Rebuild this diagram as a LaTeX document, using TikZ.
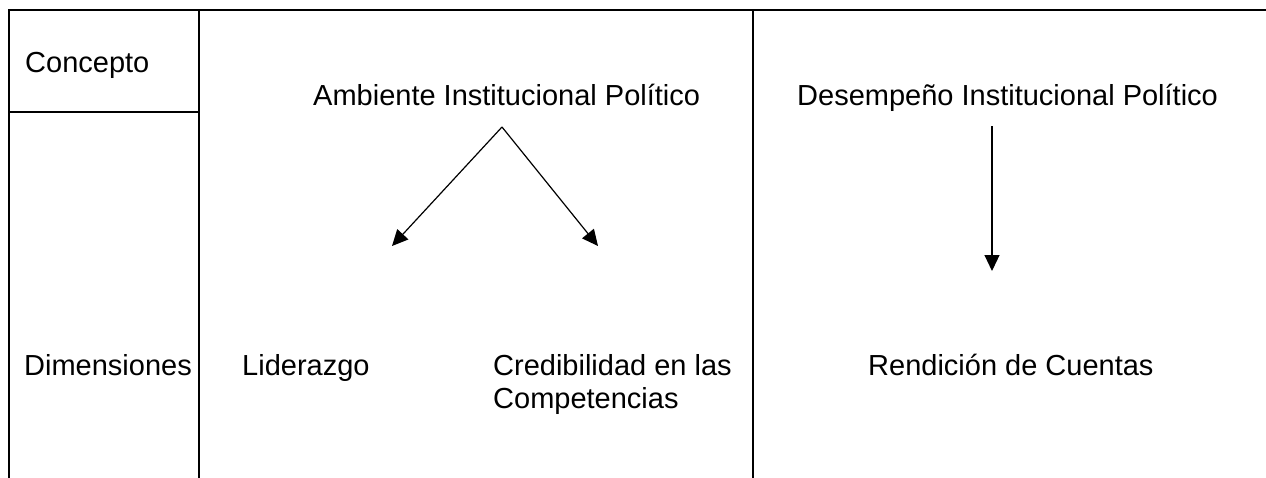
\documentclass[tikz,border=0pt]{standalone}
\usepackage{fontspec}
\setmainfont{Liberation Sans}
\usetikzlibrary{arrows.meta}
\begin{document}
\begin{tikzpicture}[x=1pt,y=-1pt,
  frame/.style={line width=2pt,line cap=rect},
  arr/.style={line width=1.2pt,-{Triangle[length=16pt,width=15pt]}},
  lbl/.style={inner sep=0pt,anchor=base west,font=\fontsize{29}{33}\selectfont,align=left}]
\useasboundingbox (0,0) rectangle (1266,477);
% frame
\draw[frame] (9,477) -- (9,10) -- (1265,10);
\draw[frame] (9,112) -- (199,112);
\draw[frame] (199,10) -- (199,477);
\draw[frame] (752.5,10) -- (752.5,477);
% texts
\node[lbl] (con) at (25,72) {Concepto};
\node[lbl] (amb) at (313,105) {Ambiente Institucional Político};
\node[lbl] (des) at (797,105) {Desempeño Institucional Político};
\node[lbl] (dim) at (24,375) {Dimensiones};
\node[lbl] (lid) at (242,375) {Liderazgo};
\node[lbl] (cre) at (493,408) {Credibilidad en las\\Competencias};
\node[lbl] (ren) at (868,375) {Rendición de Cuentas};
% arrows
\coordinate (apex) at (502,127);
\coordinate (ltip) at (392,246);
\coordinate (rtip) at (598,246);
\coordinate (dtop) at (992,126);
\coordinate (dtip) at (992,271);
\draw[arr] (apex) -- (ltip);
\draw[arr] (apex) -- (rtip);
\draw[arr] (dtop) -- (dtip);
\end{tikzpicture}
\end{document}
